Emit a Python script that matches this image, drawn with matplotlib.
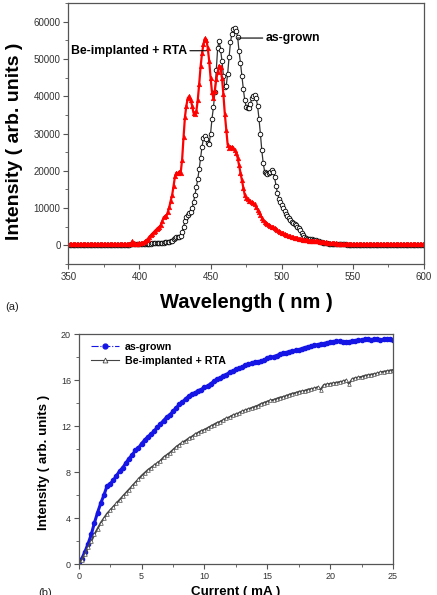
import numpy as np
import matplotlib
matplotlib.use("Agg")
import matplotlib.pyplot as plt
from matplotlib.ticker import MultipleLocator
from matplotlib.lines import Line2D

plt.rcParams['font.family'] = ['Liberation Sans', 'DejaVu Sans']

# ---------------- data: panel (a) ----------------
wavelength = np.arange(350, 601, 1)
as_grown_pl = [
    100, 100, 100, 100, 100, 100, 100, 100, 100, 100,
    100, 100, 100, 100, 100, 100, 100, 100, 100, 100,
    100, 100, 100, 100, 120, 120, 120, 120, 120, 120,
    150, 150, 150, 150, 150, 150, 150, 150, 150, 150,
    200, 200, 200, 200, 250, 250, 250, 250, 300, 300,
    300, 300, 350, 350, 400, 400, 400, 450, 450, 500,
    500, 500, 550, 600, 600, 650, 700, 750, 800, 850,
    900, 1000, 1100, 1300, 1600, 2000, 2200, 2300, 2300, 2500,
    3500, 5000, 6500, 7600, 8200, 8600, 9000, 10000, 11500, 13500,
    15600, 17800, 20500, 23500, 26500, 28800, 29300, 28500, 27500, 27300,
    30000, 34000, 37000, 41000, 47000, 53000, 54900, 52500, 49500, 45500,
    42600, 42800, 46000, 50500, 54500, 56800, 58000, 58300, 57500, 56000,
    52000, 49000, 45500, 42000, 39000, 37200, 36800, 36800, 38000, 39500,
    40000, 40200, 39500, 37500, 34000, 30000, 25500, 22000, 19800, 19300,
    19200, 19400, 19800, 20100, 19800, 18200, 16000, 14000, 12500, 11500,
    10700, 10000, 9200, 8500, 8000, 7400, 6700, 6300, 5900, 5600,
    5400, 5000, 4600, 4000, 3400, 2800, 2200, 2000, 1800, 1700,
    1700, 1600, 1500, 1400, 1400, 1300, 1100, 900, 800, 700,
    600, 550, 500, 450, 400, 380, 350, 330, 310, 300,
    300, 280, 260, 250, 240, 230, 220, 210, 200, 200,
    190, 180, 170, 160, 150, 150, 140, 140, 130, 130,
    120, 120, 120, 120, 120, 120, 120, 120, 120, 120,
    110, 110, 110, 110, 110, 110, 110, 110, 110, 110,
    100, 100, 100, 100, 100, 100, 100, 100, 100, 100,
    100, 100, 100, 100, 100, 100, 100, 100, 100, 100,
    100,
]
be_rta_pl = [
    300, 300, 300, 300, 300, 300, 300, 300, 300, 300,
    300, 300, 300, 300, 300, 300, 300, 300, 300, 300,
    300, 300, 300, 300, 300, 300, 300, 300, 300, 300,
    300, 300, 300, 300, 300, 300, 300, 300, 300, 300,
    300, 300, 300, 300, 400, 1100, 500, 400, 400, 450,
    500, 550, 650, 800, 1100, 1400, 1800, 2300, 2700, 3100,
    3500, 3900, 4300, 4700, 4900, 5500, 6500, 7500, 7800, 8000,
    9000, 10300, 12000, 13500, 16000, 18500, 19500, 19300, 19800, 19500,
    23000, 29000, 34500, 37500, 39500, 40000, 39000, 37500, 35500, 35300,
    36000, 39000, 43300, 48000, 51500, 54000, 55500, 55200, 53000, 49500,
    45000, 41000, 39500, 41500, 44500, 46500, 48200, 47800, 45000, 40500,
    35300, 31000, 27000, 26200, 26500, 26300, 26000, 25500, 24800, 23500,
    21500, 19500, 17500, 15500, 13500, 12800, 12300, 12000, 11800, 11500,
    11300, 11000, 10200, 9600, 9000, 8200, 7400, 6700, 6300, 6000,
    5800, 5500, 5200, 5000, 4900, 4600, 4300, 4000, 3800, 3600,
    3400, 3200, 3000, 2800, 2700, 2500, 2400, 2300, 2200, 2100,
    2000, 1900, 1800, 1700, 1600, 1500, 1500, 1400, 1400, 1300,
    1300, 1300, 1200, 1200, 1200, 1200, 1100, 1000, 1000, 900,
    800, 800, 700, 700, 600, 600, 500, 500, 500, 400,
    400, 400, 400, 400, 400, 400, 400, 400, 400, 400,
    300, 300, 300, 300, 300, 300, 300, 300, 300, 300,
    300, 300, 300, 300, 300, 300, 300, 300, 300, 300,
    300, 300, 300, 300, 300, 300, 300, 300, 300, 300,
    300, 300, 300, 300, 300, 300, 300, 300, 300, 300,
    300, 300, 300, 300, 300, 300, 300, 300, 300, 300,
    300,
]

# ---------------- data: panel (b) ----------------
current = np.arange(0, 25.01, 0.25)
as_grown_li = [
    0.0, 0.5, 1.1, 1.8, 2.6, 3.6, 4.5, 5.3, 6.0, 6.8,
    7.0, 7.3, 7.7, 8.1, 8.4, 8.8, 9.2, 9.5, 9.9, 10.1,
    10.5, 10.8, 11.1, 11.3, 11.6, 11.9, 12.2, 12.5, 12.8, 13.0,
    13.3, 13.6, 13.9, 14.1, 14.4, 14.6, 14.8, 14.9, 15.1, 15.2,
    15.4, 15.5, 15.7, 15.9, 16.1, 16.2, 16.4, 16.5, 16.7, 16.8,
    16.95, 17.05, 17.15, 17.3, 17.4, 17.5, 17.55, 17.6, 17.65, 17.75,
    17.9, 18.0, 18.05, 18.15, 18.25, 18.35, 18.4, 18.5, 18.55, 18.6,
    18.65, 18.75, 18.85, 18.9, 18.95, 19.05, 19.1, 19.15, 19.2, 19.25,
    19.3, 19.35, 19.4, 19.4, 19.35, 19.35, 19.35, 19.4, 19.45, 19.5,
    19.5, 19.55, 19.55, 19.5, 19.55, 19.55, 19.5, 19.55, 19.6, 19.55,
    19.5,
]
be_rta_li = [
    0.0, 0.4, 0.9, 1.5, 2.0, 2.6, 3.1, 3.6, 4.0, 4.4,
    4.7, 5.0, 5.3, 5.6, 5.9, 6.2, 6.5, 6.8, 7.1, 7.4,
    7.7, 7.95, 8.2, 8.4, 8.6, 8.8, 9.0, 9.3, 9.5, 9.7,
    9.95, 10.2, 10.4, 10.6, 10.75, 10.95, 11.1, 11.3, 11.45, 11.6,
    11.7, 11.85, 12.0, 12.15, 12.3, 12.4, 12.55, 12.7, 12.8, 12.95,
    13.05, 13.15, 13.3, 13.4, 13.5, 13.6, 13.7, 13.8, 13.95, 14.05,
    14.15, 14.25, 14.3, 14.4, 14.5, 14.55, 14.65, 14.75, 14.85, 14.9,
    15.0, 15.05, 15.1, 15.2, 15.25, 15.3, 15.4, 15.2, 15.6, 15.65,
    15.7, 15.75, 15.8, 15.85, 15.9, 16.0, 15.7, 16.1, 16.2, 16.25,
    16.3, 16.4, 16.45, 16.5, 16.55, 16.6, 16.7, 16.75, 16.8, 16.85,
    16.9,
]
legend_labels = ["as-grown", "Be-implanted + RTA"]

# ---------------- figure ----------------
W, H = 437, 595
fig = plt.figure(figsize=(W / 100, H / 100), dpi=100)

spine_col = '#555555'
tick_col = '#333333'
blue = '#1515e6'
gray = '#444444'

def style_axes(ax, labelsize):
    for s in ax.spines.values():
        s.set_color(spine_col)
        s.set_linewidth(0.9)
    ax.tick_params(which='major', direction='out', length=3.5, width=0.8,
                   color=spine_col, labelsize=labelsize, labelcolor=tick_col, pad=2)
    ax.tick_params(which='minor', direction='out', length=2, width=0.6, color=spine_col)

# panel (a)
ax1 = fig.add_axes([68.3 / W, 1 - 264 / H, (424 - 68.3) / W, (264 - 3) / H])
ax1.plot(wavelength, as_grown_pl, linestyle='-', lw=0.9, color='#333333',
         marker='o', ms=3.3, mfc='white', mec='black', mew=0.6)
ax1.plot(wavelength, be_rta_pl, linestyle='-', lw=1.6, color='#ff0000',
         marker='^', ms=3.3, mfc='#ff0000', mec='#ff0000', mew=0.4)
ax1.set_xlim(350, 600)
ax1.set_ylim(-5000, 65000)
ax1.xaxis.set_major_locator(MultipleLocator(50))
ax1.xaxis.set_minor_locator(MultipleLocator(25))
ax1.yaxis.set_major_locator(MultipleLocator(10000))
ax1.yaxis.set_minor_locator(MultipleLocator(5000))
style_axes(ax1, 7)
ax1.set_xlabel("Wavelength ( nm )", fontsize=14.5, fontweight='bold', labelpad=8)
ax1.set_ylabel("Intensity ( arb. units )", fontsize=14, fontweight='bold')
ax1.yaxis.set_label_coords(-0.128, 0.47)

ax1.annotate(legend_labels[1], xy=(447, 52200), xytext=(433.5, 52200),
             ha='right', va='center', fontsize=8.8, fontweight='bold',
             arrowprops=dict(arrowstyle='-', color='black', lw=0.8,
                             shrinkA=0, shrinkB=0))
ax1.annotate(legend_labels[0], xy=(468.7, 55600), xytext=(488.6, 55600),
             ha='left', va='center', fontsize=8.8, fontweight='bold',
             arrowprops=dict(arrowstyle='-', color='black', lw=0.8,
                             shrinkA=0, shrinkB=0))
fig.text(5 / W, 1 - 307 / H, "(a)", fontsize=8, va='center', ha='left', color='#222222')

# panel (b)
ax2 = fig.add_axes([78.7 / W, 1 - 564.3 / H, (393 - 78.7) / W, (564.3 - 334.3) / H])
ax2.plot(current, as_grown_li, linestyle='-', lw=2.2, color=blue,
         marker='o', ms=3.0, mfc=blue, mec=blue)
ax2.plot(current, be_rta_li, linestyle='-', lw=1.4, color=gray,
         marker='^', ms=2.6, mfc='white', mec=gray, mew=0.5)
ax2.set_xlim(0, 25)
ax2.set_ylim(0, 20)
ax2.xaxis.set_major_locator(MultipleLocator(5))
ax2.xaxis.set_minor_locator(MultipleLocator(2.5))
ax2.yaxis.set_major_locator(MultipleLocator(4))
ax2.yaxis.set_minor_locator(MultipleLocator(2))
style_axes(ax2, 6.5)
ax2.set_xlabel("Current ( mA )", fontsize=9.6, fontweight='bold', labelpad=4)
ax2.set_ylabel("Intensity ( arb. units )", fontsize=9.6, fontweight='bold')
ax2.yaxis.set_label_coords(-0.091, 0.445)
handles = [
    Line2D([], [], linestyle='-.', lw=0.8, color=blue, marker='o', ms=3.5,
           mfc=blue, mec=blue),
    Line2D([], [], linestyle='-', lw=0.8, color=gray, marker='^', ms=3.5,
           mfc='white', mec=gray, mew=0.6),
]
leg = ax2.legend(handles, legend_labels, loc='upper left', bbox_to_anchor=(0.02, 0.995),
                 frameon=False, fontsize=7.7, handlelength=2.6, handletextpad=0.5,
                 labelspacing=0.35, borderaxespad=0.2)
for t in leg.get_texts():
    t.set_fontweight('bold')
fig.text(38 / W, 1 - 593 / H, "(b)", fontsize=8, va='center', ha='left', color='#222222')

fig.savefig("out.png", dpi=100)
